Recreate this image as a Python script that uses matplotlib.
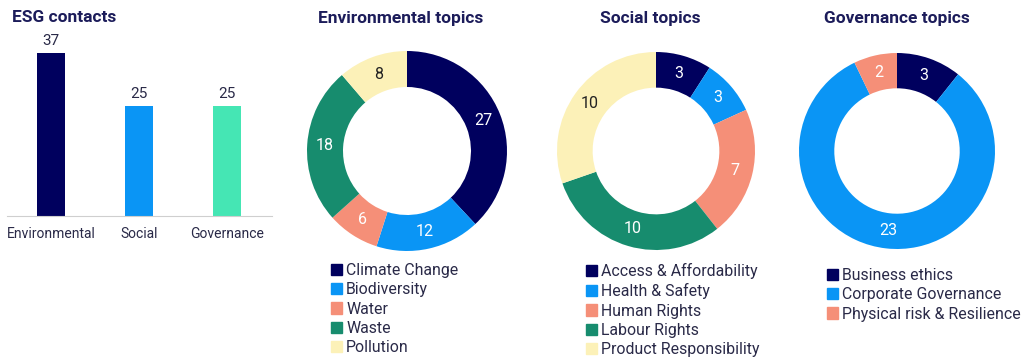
import numpy as np
import matplotlib
matplotlib.use("Agg")
import matplotlib.pyplot as plt
from matplotlib.patches import Patch

plt.rcParams['font.family'] = ['Roboto', 'DejaVu Sans']

# data
bar_cats = ['Environmental', 'Social', 'Governance']
bar_vals = [37, 25, 25]

env_labels = ['Climate Change', 'Biodiversity', 'Water', 'Waste', 'Pollution']
env_vals = [27, 12, 6, 18, 8]

soc_labels = ['Access & Affordability', 'Health & Safety', 'Human Rights',
              'Labour Rights', 'Product Responsibility']
soc_vals = [3, 3, 7, 10, 10]

gov_labels = ['Business ethics', 'Corporate Governance', 'Physical risk & Resilience']
gov_vals = [3, 23, 2]

NAVY = '#00005e'
BLUE = '#0a95f5'
SALMON = '#f58f78'
GREEN = '#178c6e'
YELLOW = '#fcf1b8'
MINT = '#45e6b4'
TITLE = '#1c1c5a'
TXT = '#2a2a48'

pie_colors = [NAVY, BLUE, SALMON, GREEN, YELLOW]
label_colors = {NAVY: 'white', BLUE: 'white', SALMON: 'white', GREEN: 'white', YELLOW: '#222222'}

W, H = 1032, 362
fig = plt.figure(figsize=(W / 100, H / 100), dpi=100)


def px(x0, y_top, w, h):
    return [x0 / W, (H - y_top - h) / H, w / W, h / H]


# bar chart
ax = fig.add_axes(px(7, 53, 265, 163))
ax.bar(range(3), bar_vals, width=0.31, color=[NAVY, BLUE, MINT])
ax.set_xlim(-0.5, 2.51)
ax.set_ylim(0, 37)
for i, v in enumerate(bar_vals):
    ax.text(i, v + 1.2, str(v), ha='center', va='bottom', fontsize=11, color=TXT)
ax.set_xticks(range(3))
ax.set_xticklabels(bar_cats, fontsize=10, color=TXT)
ax.tick_params(axis='x', length=0, pad=8)
ax.set_yticks([])
for s in ['top', 'right', 'left']:
    ax.spines[s].set_visible(False)
ax.spines['bottom'].set_color('#cfcfcf')
fig.text(12 / W, 1 - 18 / H, 'ESG contacts', fontsize=12.5, fontweight='bold',
         color=TITLE, ha='left', va='center')


def donut(cx, cy, r, vals, cols, title, tx, labels, lx, ly):
    a = fig.add_axes(px(cx - r, cy - r, 2 * r, 2 * r))
    wedges, _ = a.pie(vals, colors=cols, startangle=90, counterclock=False,
                      radius=1, wedgeprops=dict(width=0.36, linewidth=0))
    a.set_xlim(-1, 1)
    a.set_ylim(-1, 1)
    a.set_aspect('equal')
    a.axis('off')
    for w, v, c in zip(wedges, vals, cols):
        ang = np.deg2rad((w.theta1 + w.theta2) / 2)
        a.text(0.82 * np.cos(ang), 0.82 * np.sin(ang), str(v), ha='center',
               va='center', fontsize=11.5, color=label_colors[c])
    fig.text(tx / W, 1 - 18 / H, title, fontsize=12.5, fontweight='bold',
             color=TITLE, ha='center', va='center')
    handles = [Patch(color=c, label=l) for c, l in zip(cols, labels)]
    fig.legend(handles=handles, loc='upper left', bbox_to_anchor=(lx / W, 1 - ly / H),
               frameon=False, fontsize=11.4, labelcolor=TXT, handlelength=0.7,
               handleheight=0.7, handletextpad=0.25, labelspacing=0.27,
               borderpad=0, borderaxespad=0)


donut(407, 151, 100, env_vals, pie_colors, 'Environmental topics', 401,
      env_labels, 331, 263)
donut(656, 151, 99, soc_vals, pie_colors, 'Social topics', 650,
      soc_labels, 586, 263)
donut(897, 151, 98, gov_vals, [NAVY, BLUE, SALMON], 'Governance topics', 897,
      gov_labels, 827, 268)

fig.savefig('out.png', dpi=100)
